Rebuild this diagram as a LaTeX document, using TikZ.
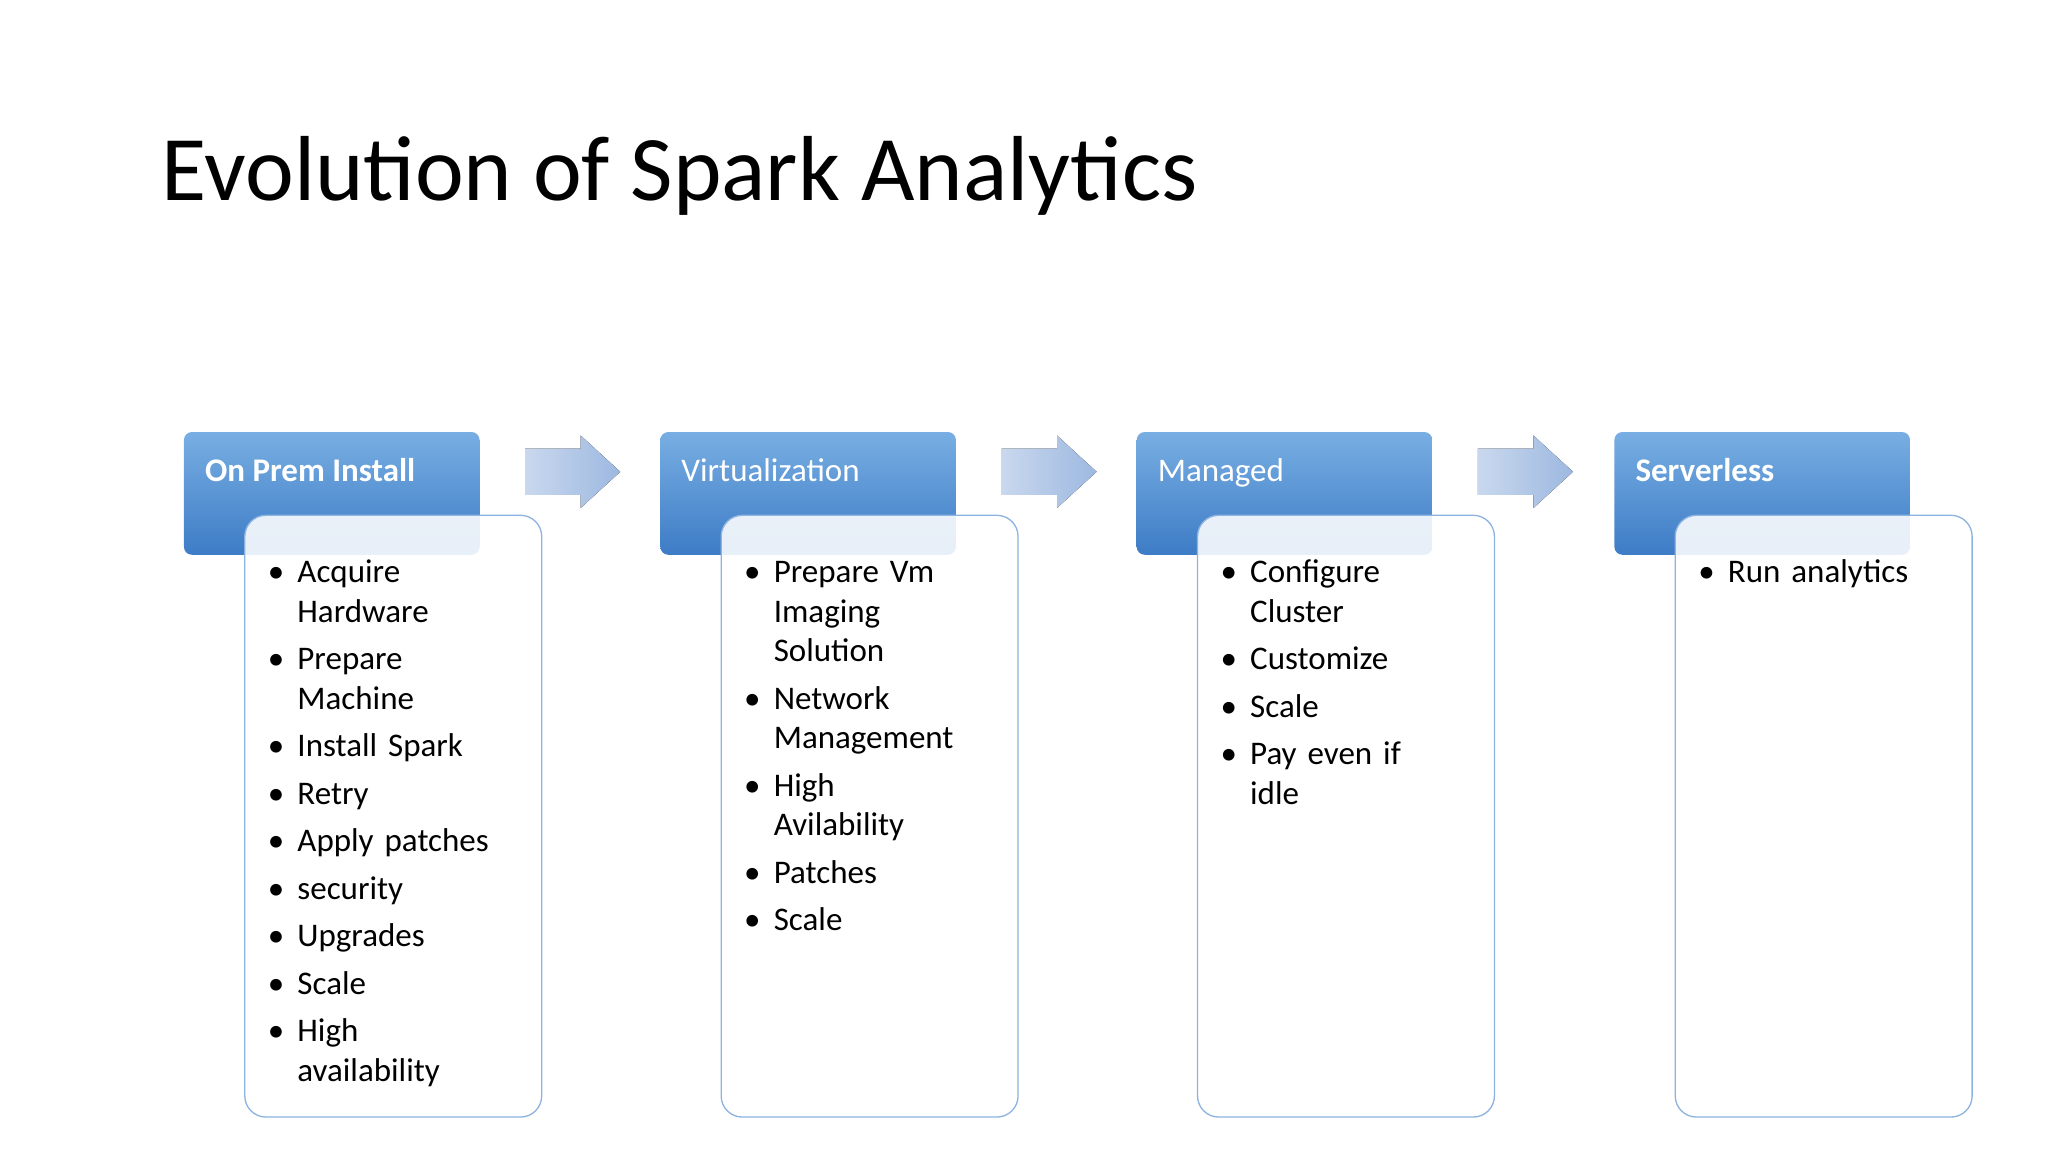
\documentclass[tikz,border=0pt]{standalone}
\usepackage{fontspec}
\setmainfont{Carlito}
\usepackage{enumitem}
\definecolor{htop}{HTML}{78AEE2}
\definecolor{hbot}{HTML}{3D7CC6}
\definecolor{bord}{HTML}{8DB3E0}
\definecolor{atop}{HTML}{C9D8EE}
\definecolor{abot}{HTML}{9DB8E0}
\tikzset{
 hdr/.style={rounded corners=3pt,top color=htop,bottom color=hbot,draw=none,minimum width=112pt,minimum height=46.5pt,anchor=north west},
 bodybox/.style={rounded corners=8pt,fill=white,fill opacity=0.88,draw=bord,line width=0.5pt,minimum width=112.5pt,minimum height=228pt,anchor=north west},
 htxt/.style={text=white,font=\fontsize{12.5}{14}\selectfont,anchor=base west,inner sep=0pt},
 blist/.style={anchor=north west,text width=95pt,font=\fontsize{12.5}{15}\selectfont,inner sep=0pt},
 flow/.style={left color=atop,right color=abot,draw=none}
}
\setlist[itemize]{leftmargin=8pt,labelsep=5pt,itemsep=3pt,parsep=0pt,topsep=0pt,partopsep=0pt,label=\textbullet}
\begin{document}
\begin{tikzpicture}[x=0.5pt,y=-0.5pt]
\useasboundingbox (0,0) rectangle (1552,873);
\node[anchor=base west,font=\fontsize{35}{40}\selectfont,inner sep=0pt] (title) at (122,152) {Evolution of Spark Analytics};
\foreach \i/\x/\t/\b in {1/139/{\bfseries On Prem Install}/{\item Acquire\\Hardware \item Prepare\\Machine \item Install Spark \item Retry \item Apply patches \item security \item Upgrades \item Scale \item High\\availability},
 2/500/{Virtualization}/{\item Prepare Vm\\Imaging\\Solution \item Network\\Management \item High\\Avilability \item Patches \item Scale},
 3/861/{Managed}/{\item Configure\\Cluster \item Customize \item Scale \item Pay even if\\idle},
 4/1223/{\bfseries Serverless}/{\item Run analytics}} {
 \node[hdr] (h\i) at (\x,327) {};
 \node[htxt] (ht\i) at (\x+16,365) {\t};
 \node[bodybox] (b\i) at (\x+46,390) {};
 \node[blist] (l\i) at (\x+70,411) {\begin{itemize}\b\end{itemize}};
}
\foreach \x in {398,759,1120}{
 \fill[flow] (\x,340) -- (\x+42,340) -- (\x+42,330) -- (\x+72,357.5) -- (\x+42,385) -- (\x+42,375) -- (\x,375) -- cycle;
}
\end{tikzpicture}
\end{document}
